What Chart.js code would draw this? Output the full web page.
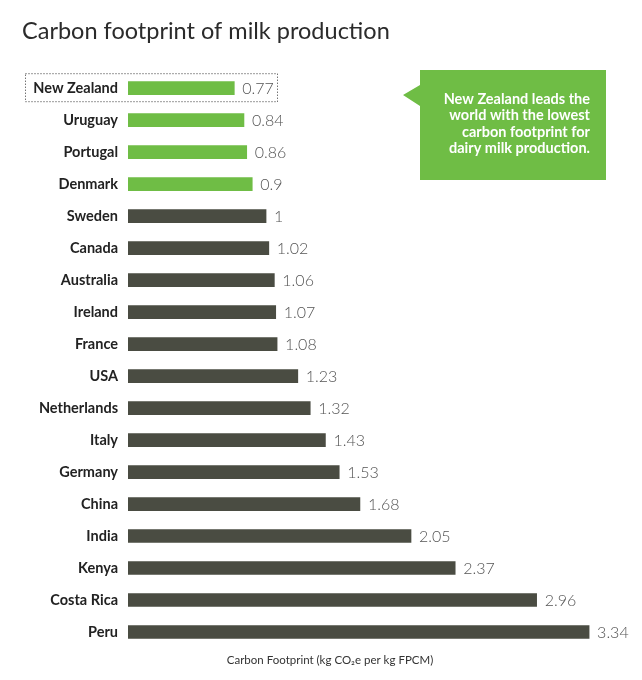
<!DOCTYPE html>
<html>
<head>
<meta charset="utf-8">
<script src="https://cdn.jsdelivr.net/npm/chart.js@4"></script>
<style>
  html, body { margin: 0; padding: 0; background: #fff; }
  #wrap { width: 642px; height: 680px; }
</style>
</head>
<body>
<div id="wrap"><canvas id="myChart" width="642" height="680"></canvas></div>
<script>
// data
const countries = ["New Zealand", "Uruguay", "Portugal", "Denmark", "Sweden", "Canada", "Australia", "Ireland", "France", "USA", "Netherlands", "Italy", "Germany", "China", "India", "Kenya", "Costa Rica", "Peru"];
const footprint = [0.77, 0.84, 0.86, 0.9, 1, 1.02, 1.06, 1.07, 1.08, 1.23, 1.32, 1.43, 1.53, 1.68, 2.05, 2.37, 2.96, 3.34];
const lowest = ["New Zealand", "Uruguay", "Portugal", "Denmark"];
const axisTitle = "Carbon Footprint (kg CO\u2082e per kg FPCM)";
const calloutLines = ["New Zealand leads the", "world with the lowest", "carbon footprint for", "dairy milk production."];

const green = "#6fbd45";
const dark = "#4a4c42";

// value at the end of each bar
const valueLabels = {
    id: "valueLabels",
    afterDatasetsDraw(chart) {
        let ctx = chart.ctx;
        let meta = chart.getDatasetMeta(0);
        ctx.save();
        ctx.font = "300 16px Lato";
        ctx.fillStyle = "#555";
        ctx.textAlign = "left";
        ctx.textBaseline = "middle";
        meta.data.forEach((bar, i) => {
            ctx.fillText(String(footprint[i]), bar.x + 8, bar.y + 1);
        });
        ctx.restore();
    },
};

// dotted box round New Zealand, callout and axis title
const extras = {
    id: "extras",
    afterDraw(chart) {
        let ctx = chart.ctx;
        let y = chart.scales.y.getPixelForValue(0);
        ctx.save();
        ctx.strokeStyle = "#333";
        ctx.lineWidth = 1;
        ctx.setLineDash([1, 2]);
        ctx.strokeRect(25.5, y - 14.5, 252, 28);
        ctx.setLineDash([]);

        ctx.fillStyle = green;
        ctx.beginPath();
        ctx.moveTo(420, 70);
        ctx.lineTo(606, 70);
        ctx.lineTo(606, 180);
        ctx.lineTo(420, 180);
        ctx.lineTo(420, 106);
        ctx.lineTo(403, 95);
        ctx.lineTo(420, 85);
        ctx.closePath();
        ctx.fill();

        ctx.fillStyle = "#fff";
        ctx.font = "bold 14.5px Lato";
        ctx.textAlign = "right";
        ctx.textBaseline = "middle";
        calloutLines.forEach((t, i) => ctx.fillText(t, 590, 99 + i * 16.5));

        ctx.fillStyle = "#333";
        ctx.font = "11.5px Lato";
        ctx.textAlign = "center";
        ctx.fillText(axisTitle, 330, 660);
        ctx.restore();
    },
};

let ctx = document.getElementById("myChart").getContext("2d");
let myChart = new Chart(ctx, {
    type: "bar",
    data: {
        labels: countries,
        datasets: [
            {
                data: footprint,
                backgroundColor: countries.map((c) => (lowest.includes(c) ? green : dark)),
                barThickness: 13,
            },
        ],
    },
    options: {
        indexAxis: "y",
        responsive: false,
        animation: false,
        layout: { padding: { left: 22, right: 17, bottom: 32, top: 0 } },
        plugins: {
            legend: { display: false },
            tooltip: { enabled: false },
            title: {
                display: true,
                text: "Carbon footprint of milk production",
                align: "start",
                color: "#2b2b2b",
                font: { family: "Lato", size: 23.5, weight: "normal" },
                padding: { top: 17, bottom: 27 },
            },
        },
        scales: {
            x: { display: false, min: 0, max: 3.6 },
            y: {
                grid: { display: false, drawTicks: false },
                border: { display: false },
                ticks: {
                    padding: 10,
                    color: "#222",
                    font: { family: "Lato", size: 14.5, weight: "bold" },
                },
                afterFit(scale) {
                    scale.width = 106;
                },
            },
        },
    },
    plugins: [valueLabels, extras],
});
</script>
</body>
</html>
